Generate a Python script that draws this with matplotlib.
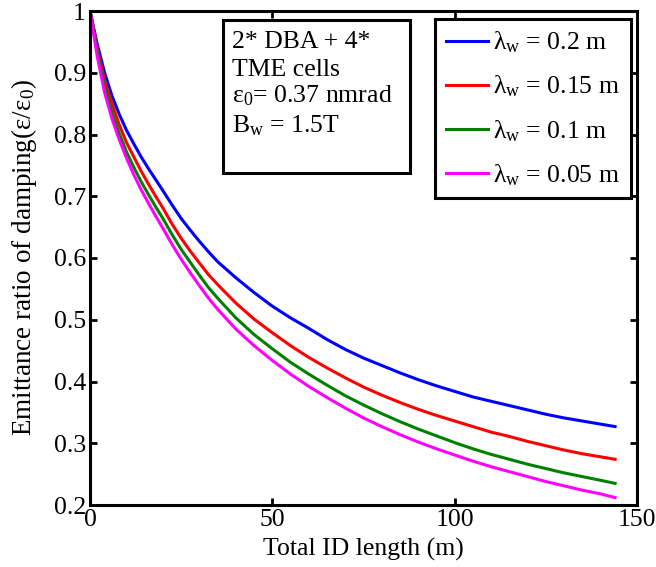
import matplotlib
matplotlib.use("Agg")
import matplotlib.pyplot as plt
from matplotlib.patches import Rectangle

plt.rcParams['font.family'] = ['Liberation Serif', 'DejaVu Serif']
plt.rcParams['mathtext.fontset'] = 'custom'
plt.rcParams['mathtext.rm'] = 'Liberation Serif'
plt.rcParams['mathtext.it'] = 'Liberation Serif'
plt.rcParams['mathtext.default'] = 'rm'

# Data
length_m = [0, 2, 4, 6, 8, 10, 12, 14, 16, 18, 20,
            22.5, 25, 27.5, 30, 32.5, 35,
            40, 45, 50, 55, 60, 65, 70, 75, 80, 85, 90, 95, 100, 105, 110, 115,
            120, 125, 130, 135, 140, 144]
ratio_lw_020 = [1.000, 0.946, 0.900, 0.863, 0.833, 0.807, 0.785, 0.764, 0.745, 0.727, 0.709,
                0.686, 0.664, 0.645, 0.627, 0.610, 0.594,
                0.568, 0.544, 0.522, 0.503, 0.486, 0.468, 0.452, 0.438, 0.426, 0.414,
                0.403, 0.393, 0.384, 0.375, 0.368, 0.361, 0.354, 0.347, 0.341, 0.336,
                0.331, 0.327]
ratio_lw_015 = [1.000, 0.940, 0.888, 0.850, 0.816, 0.787, 0.764, 0.741, 0.720, 0.700, 0.681,
                0.655, 0.632, 0.611, 0.592, 0.573, 0.557,
                0.527, 0.501, 0.479, 0.458, 0.439, 0.422, 0.406, 0.391, 0.378, 0.366,
                0.355, 0.345, 0.336, 0.327, 0.318, 0.311, 0.303, 0.296, 0.289, 0.283,
                0.278, 0.274]
ratio_lw_010 = [1.000, 0.935, 0.878, 0.836, 0.802, 0.772, 0.747, 0.724, 0.703, 0.683, 0.664,
                0.638, 0.614, 0.593, 0.572, 0.552, 0.535,
                0.503, 0.476, 0.453, 0.431, 0.412, 0.394, 0.377, 0.362, 0.348, 0.335,
                0.323, 0.312, 0.301, 0.291, 0.282, 0.274, 0.266, 0.259, 0.252, 0.246,
                0.240, 0.235]
ratio_lw_005 = [1.000, 0.926, 0.868, 0.826, 0.792, 0.762, 0.735, 0.711, 0.689, 0.668, 0.648,
                0.622, 0.598, 0.576, 0.555, 0.535, 0.517,
                0.485, 0.458, 0.434, 0.412, 0.392, 0.374, 0.357, 0.341, 0.327, 0.314,
                0.302, 0.291, 0.281, 0.271, 0.262, 0.254, 0.246, 0.238, 0.231, 0.224,
                0.218, 0.212]
series_labels = ['λ$_{\\rm w}$ = 0.2 m', 'λ$_{\\rm w}$ = 0.15 m',
                 'λ$_{\\rm w}$ = 0.1 m', 'λ$_{\\rm w}$ = 0.05 m']
series_colors = ['#0000ff', '#ff0000', '#008000', '#ff00ff']
x_ticks = [0, 50, 100, 150]
y_ticks = [0.2, 0.3, 0.4, 0.5, 0.6, 0.7, 0.8, 0.9, 1.0]
y_tick_labels = ['0.2', '0.3', '0.4', '0.5', '0.6', '0.7', '0.8', '0.9', '1']
info_lines = ['2* DBA + 4*', 'TME cells', 'ε$_{0}$= 0.37 nmrad', 'B$_{\\rm w}$ = 1.5T']

FS = 18.5
W, H = 656, 567
fig = plt.figure(figsize=(W / 100, H / 100), dpi=100)
ax = fig.add_axes([90 / W, 1 - 505 / H, 547 / W, 494 / H])

for ys, lab, col in zip([ratio_lw_020, ratio_lw_015, ratio_lw_010, ratio_lw_005],
                        series_labels, series_colors):
    ax.plot(length_m, ys, color=col, lw=2.2, label=lab)

ax.set_xlim(0, 150)
ax.set_ylim(0.2, 1.0)
ax.set_xticks(x_ticks)
ax.set_xticklabels([str(t) for t in x_ticks])
ax.set_yticks(y_ticks)
ax.set_yticklabels(y_tick_labels)
ax.tick_params(direction='in', top=True, right=True, length=5, width=2,
               labelsize=FS, pad=3)
for sp in ax.spines.values():
    sp.set_linewidth(2.2)
ax.set_xlabel('Total ID length (m)', fontsize=FS, labelpad=5)
ax.set_ylabel('Emittance ratio of damping(ε/ε$_0$)', fontsize=19.5)
ax.yaxis.set_label_coords((39 - 90) / 547, 0.5)

leg = ax.legend(loc='upper left', bbox_to_anchor=((435 - 90) / 547, (505 - 19) / 494),
                fontsize=FS, frameon=True, fancybox=False, edgecolor='black',
                framealpha=1, handlelength=1.65, handletextpad=0.2, labelspacing=0.72,
                borderpad=0.42, borderaxespad=0)
leg.get_frame().set_linewidth(2.2)

# info box
ax.add_patch(Rectangle(((223 - 90) / 547, (505 - 173) / 494), (410 - 223) / 547,
                       (173 - 20) / 494, transform=ax.transAxes, fill=True,
                       facecolor='white', edgecolor='black', lw=2.2, zorder=5))
for line, yb in zip(info_lines, [48, 76, 102, 132]):
    fig.text(232 / W, 1 - yb / H, line, fontsize=FS, va='baseline', ha='left', zorder=6)

fig.savefig('out.png', dpi=100)
